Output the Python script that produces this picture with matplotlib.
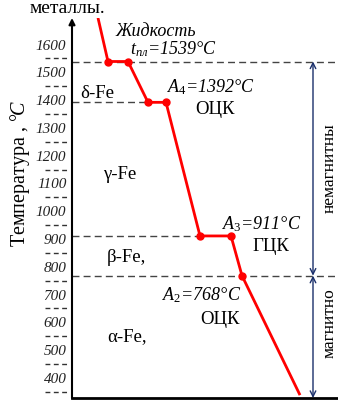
import matplotlib
matplotlib.use("Agg")
import matplotlib.pyplot as plt
import matplotlib.transforms as mtransforms

plt.rcParams['font.family'] = ['Liberation Serif', 'DejaVu Serif']
plt.rcParams['mathtext.fontset'] = 'custom'
plt.rcParams['mathtext.rm'] = 'Liberation Serif'
plt.rcParams['mathtext.it'] = 'Liberation Serif:italic'

# ---- data ----
time = [26, 36, 56, 76, 94, 128, 159, 170, 228]
temp = [1696, 1539, 1539, 1392, 1392, 911, 911, 768, 338]
marker_time = [36, 56, 76, 94, 128, 159, 170]
marker_temp = [1539, 1539, 1392, 1392, 911, 911, 768]
yticks = [400, 500, 600, 700, 800, 900, 1000, 1100, 1200, 1300, 1400, 1500, 1600]
minor_marks = [350, 450, 550, 650, 750, 850, 950, 1050, 1150, 1250, 1350, 1450, 1550]
crit_temps = [1539, 1392, 911, 768]
crit_ends = [266, 76, 128, 266]

fig = plt.figure(figsize=(3.38, 4.0), dpi=100)
ax = fig.add_axes([72/338, 2/400, 266/338, 380/400])
ax.set_xlim(0, 266)
ax.set_ylim(327.6, 1695.6)

for sp in ['top', 'right', 'left']:
    ax.spines[sp].set_visible(False)
ax.spines['bottom'].set_linewidth(2)
ax.set_xticks([])

# y axis with arrow
ax.annotate('', xy=(0, 1.0), xytext=(0, 0), xycoords='axes fraction',
            arrowprops=dict(arrowstyle='-|>', lw=1.5, color='black',
                            mutation_scale=9, shrinkA=0, shrinkB=0))

ax.set_yticks(yticks)
ax.set_yticklabels([str(t) for t in yticks], fontstyle='italic', fontsize=11, color='#222222')
ax.tick_params(axis='y', length=0, pad=4)

# dashed short marks between labels
trans = mtransforms.blended_transform_factory(ax.transAxes, ax.transData)
for m in minor_marks:
    ax.plot([-0.1015, -0.015], [m, m], transform=trans, clip_on=False,
            color='#333333', lw=1, ls=(0, (3.5, 2.5)))

# dashed horizontal critical lines
for t, e in zip(crit_temps, crit_ends):
    ax.plot([0, e], [t, t], color='#444444', lw=1, ls=(0, (5, 3)), zorder=1)

# red cooling curve
ax.plot(time, temp, color='#ff0000', lw=2, zorder=3, solid_capstyle='butt')
ax.plot(marker_time, marker_temp, 'o', color='#ff0000', ms=5, zorder=4)

# right double arrows
navy = '#1a2f6b'
ax.annotate('', xy=(241, 1539), xytext=(241, 768),
            arrowprops=dict(arrowstyle='<->', color=navy, lw=1, shrinkA=0, shrinkB=0, mutation_scale=10))
ax.annotate('', xy=(241, 768), xytext=(241, 327.6),
            arrowprops=dict(arrowstyle='<->', color=navy, lw=1, shrinkA=0, shrinkB=0, mutation_scale=10),
            annotation_clip=False)

# labels
fs = 13.5
ax.text(43, 1629, 'Жидкость', fontstyle='italic', fontsize=13, va='baseline')
ax.text(58, 1564, r'$t_{пл}$=1539°C', fontstyle='italic', fontsize=13, va='baseline')
ax.text(8, 1408, 'δ-Fe', fontsize=fs, va='baseline')
ax.text(95, 1428, r'$A_4$=1392°C', fontstyle='italic', fontsize=13, va='baseline')
ax.text(123, 1349, 'ОЦК', fontsize=fs, va='baseline')
ax.text(31, 1116, 'γ-Fe', fontsize=fs, va='baseline')
ax.text(150, 936, r'$A_3$=911°C', fontstyle='italic', fontsize=13, va='baseline')
ax.text(180, 857, 'ГЦК', fontsize=fs, va='baseline')
ax.text(35, 818, 'β-Fe,', fontsize=fs, va='baseline')
ax.text(90, 678, r'$A_2$=768°C', fontstyle='italic', fontsize=13, va='baseline')
ax.text(128, 595, 'ОЦК', fontsize=fs, va='baseline')
ax.text(35, 534, 'α-Fe,', fontsize=fs, va='baseline')

fig.text(30/338, 1 - 13/400, 'металлы.', fontsize=14, va='baseline', ha='left')
fig.text(20/338, 1 - 174/400, r'Температура , $°\!C$', fontsize=14.5, rotation=90,
         ha='center', va='center')
fig.text(330/338, 1 - 168/400, 'немагнитны', fontsize=12.5, rotation=90,
         ha='center', va='center')
fig.text(330/338, 1 - 323/400, 'магнитно', fontsize=12.5, rotation=90,
         ha='center', va='center')

fig.savefig('out.png', dpi=100)
